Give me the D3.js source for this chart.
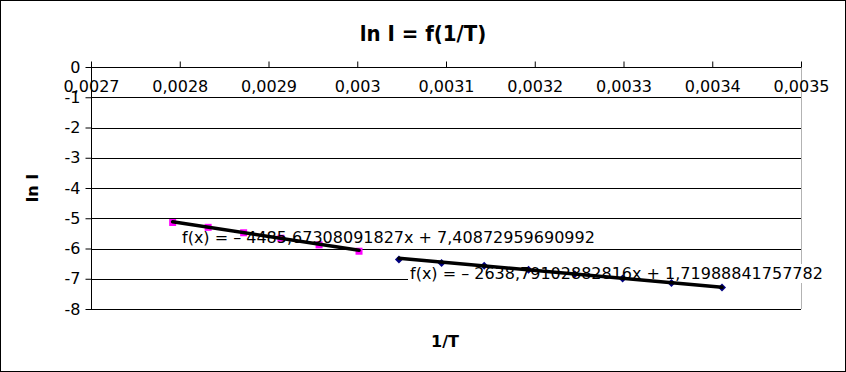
<!DOCTYPE html>
<html><head><meta charset="utf-8">
<script src="https://cdn.jsdelivr.net/npm/d3@7"></script>
<style>
body{margin:0;background:#fff;}
text{font-family:"DejaVu Sans",sans-serif;}
</style></head>
<body><svg id="c" width="846" height="372"></svg>
<script>
const title = "ln I = f(1/T)";
const xTitle = "1/T";
const yTitle = "ln I";
const xTicks = [0.0027,0.0028,0.0029,0.003,0.0031,0.0032,0.0033,0.0034,0.0035];
const xTickLabels = ["0,0027","0,0028","0,0029","0,003","0,0031","0,0032","0,0033","0,0034","0,0035"];
const yTicks = [0,-1,-2,-3,-4,-5,-6,-7,-8];
const yTickLabels = ["0","-1","-2","-3","-4","-5","-6","-7","-8"];

const s1x = [0.002792,0.002832,0.002872,0.002914,0.002957,0.003002];
const s1y = [-5.14,-5.30,-5.48,-5.66,-5.88,-6.09];
const s2x = [0.003047,0.003095,0.003143,0.003193,0.003245,0.003299,0.003354,0.003411];
const s2y = [-6.36,-6.48,-6.57,-6.70,-6.85,-6.99,-7.14,-7.29];
const fit1 = {slope:-4485.67308091827, intercept:7.40872959690992, label:"f(x) = \u2013 4485,67308091827x + 7,40872959690992"};
const fit2 = {slope:-2638.79102882816, intercept:1.71988841757782, label:"f(x) = \u2013 2638,79102882816x + 1,71988841757782"};

const svg = d3.select("#c");
svg.append("rect").attr("x",0.5).attr("y",0.5).attr("width",845).attr("height",371)
  .attr("fill","#fff").attr("stroke","#000");

const x = d3.scaleLinear().domain([0.0027,0.0035]).range([91,801]);
const y = d3.scaleLinear().domain([0,-8]).range([67,309]);

// grid
svg.append("g").selectAll("line").data(yTicks).join("line")
  .attr("x1",91).attr("x2",801)
  .attr("y1",d=>Math.round(y(d))+0.5).attr("y2",d=>Math.round(y(d))+0.5)
  .attr("stroke","#000");
svg.append("line").attr("x1",801.5).attr("x2",801.5).attr("y1",67).attr("y2",309)
  .attr("stroke","#b3b3b3");

// axes
const ya = svg.append("g").attr("transform","translate(91.5,0)")
  .call(d3.axisLeft(y).tickValues(yTicks).tickSize(6).tickPadding(5)
    .tickFormat((d,i)=>yTickLabels[i]));
const xa = svg.append("g").attr("transform","translate(0,67.5)")
  .call(d3.axisBottom(x).tickValues(xTicks).tickSize(-6).tickPadding(13)
    .tickFormat((d,i)=>xTickLabels[i]));
[ya,xa].forEach(a=>{
  a.select(".domain").attr("stroke","#000");
  a.selectAll(".tick line").attr("stroke","#000");
  a.selectAll("text").attr("font-size",16).attr("font-family","DejaVu Sans").attr("fill","#000");
});
xa.select(".domain").attr("d","M91,0H801");
ya.select(".domain").attr("d","M0,67V309");

// regression labels with white backgrounds
const labels = [
  {fit:fit1, x:182, y:242.5},
  {fit:fit2, x:410, y:279}
];
const lg = svg.append("g");
const lt = [];
labels.forEach(l=>{
  const t = lg.append("text").attr("x",l.x).attr("y",l.y).attr("font-size",16).attr("fill","#000").text(l.fit.label);
  lt.push(t);
});
lt.forEach((t,i)=>{
  const b = t.node().getBBox();
  lg.insert("rect","text").attr("x",b.x-2).attr("y",b.y).attr("width",b.width+4).attr("height",b.height).attr("fill","#fff");
});

// markers (above label background, below label text)
const mg = lg.insert("g","text");
mg.selectAll("rect").data(s1x.map((v,i)=>[v,s1y[i]])).join("rect")
  .attr("x",d=>x(d[0])-3.5).attr("y",d=>y(d[1])-3.5).attr("width",7).attr("height",7)
  .attr("fill","#ff00ff");
mg.selectAll("path").data(s2x.map((v,i)=>[v,s2y[i]])).join("path")
  .attr("d",d=>`M${x(d[0])},${y(d[1])-4}L${x(d[0])+4},${y(d[1])}L${x(d[0])},${y(d[1])+4}L${x(d[0])-4},${y(d[1])}Z`)
  .attr("fill","#000080");

// trend lines
[[fit1,s1x],[fit2,s2x]].forEach(([f,xs])=>{
  const x0 = d3.min(xs), x1 = d3.max(xs);
  svg.append("line").attr("x1",x(x0)).attr("y1",y(f.slope*x0+f.intercept))
    .attr("x2",x(x1)).attr("y2",y(f.slope*x1+f.intercept))
    .attr("stroke","#000").attr("stroke-width",3.5).attr("stroke-linecap","round");
});

// titles
svg.append("text").attr("x",423).attr("y",41).attr("text-anchor","middle")
  .attr("font-size",22).attr("font-weight","bold").attr("font-stretch","condensed").text(title);
svg.append("text").attr("x",445).attr("y",347).attr("text-anchor","middle")
  .attr("font-size",16).attr("font-weight","bold").text(xTitle);
svg.append("text").attr("transform","translate(38,188) rotate(-90)").attr("text-anchor","middle")
  .attr("font-size",16).attr("font-weight","bold").text(yTitle);
</script></body></html>
